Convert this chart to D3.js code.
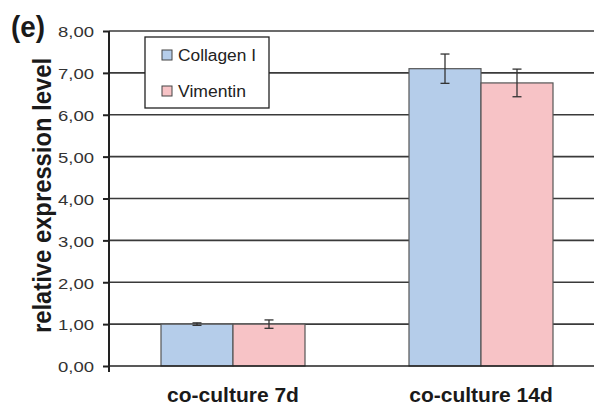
<!DOCTYPE html>
<meta charset="utf-8">
<style>
body { margin: 0; background: #fff; font-family: Arial, "Liberation Sans", sans-serif; }
.grid line { stroke: #3a3a3a; stroke-width: 1.6; }
.y-axis path, .y-axis line { stroke: #222; stroke-width: 2; }
.y-axis text { fill: #333; font-size: 14.5px; }
.err { stroke: #333; stroke-width: 1.3; }
</style>
<body>
<div id="d3id"></div>
<script src="https://d3js.org/d3.v7.min.js"></script>
<script>

var categories = ["co-culture 7d", "co-culture 14d"];
var series = ["Collagen I", "Vimentin"];
var collagen = [1.00, 7.10];
var vimentin = [1.00, 6.76];
var collagenErr = [0.03, 0.35];
var vimentinErr = [0.10, 0.33];
var yTicks = [0, 1, 2, 3, 4, 5, 6, 7, 8];
var colors = ["#b5cdea", "#f7c3c6"];

var width = 594, height = 408;
var x0 = 109, yTop = 31, yBottom = 366;

var data = categories.map(function(c, i) {
  return {
    category: c,
    values: [
      {key: series[0], value: collagen[i], err: collagenErr[i]},
      {key: series[1], value: vimentin[i], err: vimentinErr[i]}
    ]
  };
});

var svg = d3.select("#d3id").append("svg")
  .attr("width", width)
  .attr("height", height);

var xScale0 = d3.scaleBand().domain(categories).range([x0, x0 + 496]);
var xScale1 = d3.scaleBand().domain(series).range([52, 196]);
var yScale = d3.scaleLinear().domain([0, 8]).range([yBottom, yTop]);

// gridlines
svg.append("g").attr("class", "grid")
  .selectAll("line")
  .data(yTicks.slice(1))
  .enter().append("line")
  .attr("x1", x0).attr("x2", width)
  .attr("y1", d => yScale(d)).attr("y2", d => yScale(d));

// bars
var group = svg.selectAll(".category")
  .data(data)
  .enter().append("g")
  .attr("class", "category")
  .attr("transform", d => `translate(${xScale0(d.category)},0)`);

group.selectAll("rect")
  .data(d => d.values)
  .enter().append("rect")
  .attr("x", d => xScale1(d.key))
  .attr("y", d => yScale(d.value))
  .attr("width", xScale1.bandwidth())
  .attr("height", d => yScale(0) - yScale(d.value))
  .style("fill", (d, i) => colors[i])
  .style("stroke", "#555")
  .style("stroke-width", 1.2);

// error bars
var err = group.selectAll(".errbar")
  .data(d => d.values)
  .enter().append("g")
  .attr("class", "errbar")
  .attr("transform", d => `translate(${xScale1(d.key) + xScale1.bandwidth() / 2},0)`);

err.append("line").attr("class", "err")
  .attr("x1", 0).attr("x2", 0)
  .attr("y1", d => yScale(d.value + d.err))
  .attr("y2", d => yScale(d.value - d.err));
err.append("line").attr("class", "err")
  .attr("x1", -4.5).attr("x2", 4.5)
  .attr("y1", d => yScale(d.value + d.err))
  .attr("y2", d => yScale(d.value + d.err));
err.append("line").attr("class", "err")
  .attr("x1", -4.5).attr("x2", 4.5)
  .attr("y1", d => yScale(d.value - d.err))
  .attr("y2", d => yScale(d.value - d.err));

// baseline
svg.append("line")
  .attr("x1", x0).attr("x2", width)
  .attr("y1", yScale(0)).attr("y2", yScale(0))
  .style("stroke", "#222").style("stroke-width", 1.6);

// y axis
var yAxis = svg.append("g")
  .attr("class", "y-axis")
  .attr("transform", `translate(${x0},0)`)
  .call(d3.axisLeft(yScale)
    .tickValues(yTicks)
    .tickSize(6)
    .tickSizeOuter(0)
    .tickPadding(9)
    .tickFormat(d => d3.format(".2f")(d).replace(".", ",")));
yAxis.select(".domain").attr("d", `M0,${yTop}V${yBottom + 6}`);
yAxis.selectAll("text")
  .attr("dy", "0.4em")
  .attr("textLength", 36)
  .attr("lengthAdjust", "spacingAndGlyphs");

// x labels
svg.selectAll(".xlabel")
  .data(categories)
  .enter().append("text")
  .attr("x", d => xScale0(d) + xScale0.bandwidth() / 2)
  .attr("y", 402)
  .attr("text-anchor", "middle")
  .style("font-size", "21px")
  .style("font-weight", "bold")
  .style("fill", "#1a1a1a")
  .text(d => d);

// y label
svg.append("text")
  .attr("transform", "translate(51,195.5) rotate(-90) scale(1,1.08)")
  .attr("text-anchor", "middle")
  .attr("textLength", 275)
  .attr("lengthAdjust", "spacingAndGlyphs")
  .style("font-size", "24px")
  .style("font-weight", "bold")
  .style("fill", "#1a1a1a")
  .text("relative expression level");

// panel letter
svg.append("text")
  .attr("x", 11).attr("y", 37)
  .attr("textLength", 34)
  .attr("lengthAdjust", "spacingAndGlyphs")
  .style("font-size", "30px")
  .style("font-weight", "bold")
  .style("fill", "#1a1a1a")
  .text("(e)");

// legend
var legend = svg.append("g");
legend.append("rect")
  .attr("x", 145).attr("y", 37)
  .attr("width", 124).attr("height", 71)
  .style("fill", "#fff")
  .style("stroke", "#222")
  .style("stroke-width", 1.3);

var legendLen = [78, 68];
var item = legend.selectAll(".item")
  .data(series)
  .enter().append("g")
  .attr("transform", (d, i) => `translate(162,${55 + i * 36})`);
item.append("rect")
  .attr("x", 0).attr("y", -5)
  .attr("width", 10).attr("height", 10)
  .style("fill", (d, i) => colors[i])
  .style("stroke", "#444")
  .style("stroke-width", 1);
item.append("text")
  .attr("x", 16).attr("y", 6)
  .attr("textLength", (d, i) => legendLen[i])
  .attr("lengthAdjust", "spacingAndGlyphs")
  .style("font-size", "16px")
  .style("fill", "#222")
  .text(d => d);

</script>
</body>
